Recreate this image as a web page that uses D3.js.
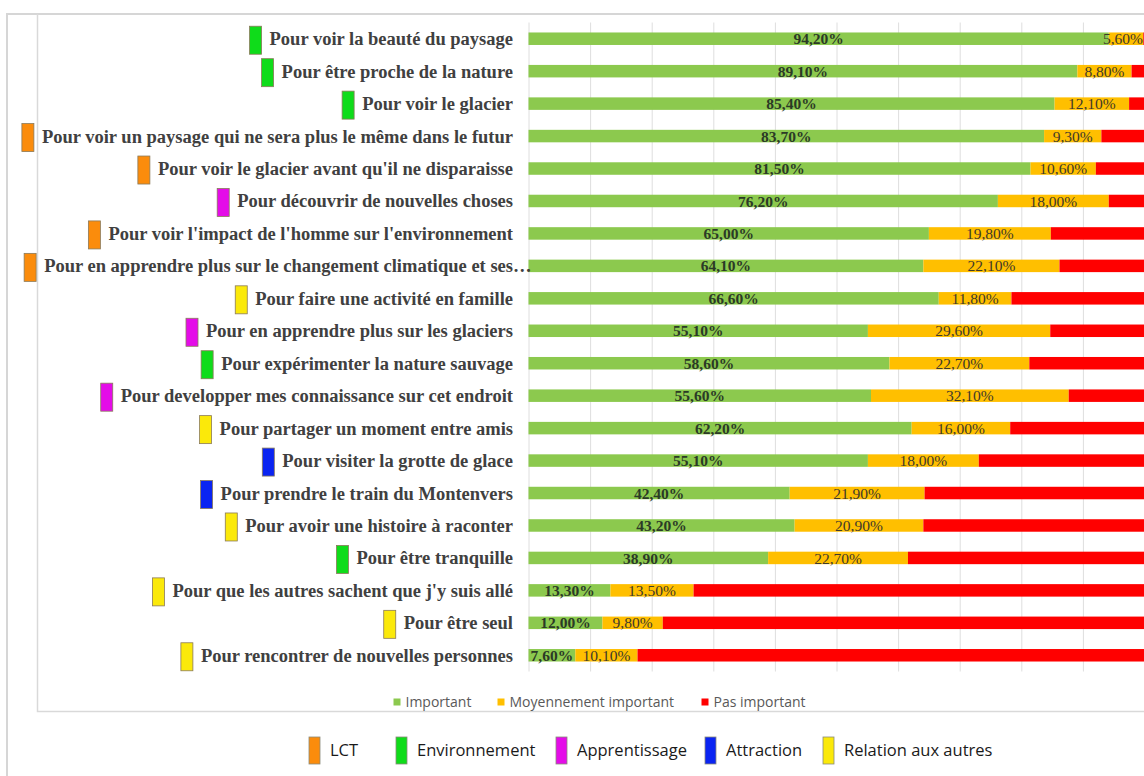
<!DOCTYPE html>
<html>
<head>
<meta charset="utf-8">
<script src="https://cdn.jsdelivr.net/npm/d3@7"></script>
<style>
  body { margin: 0; background: #fff; }
  svg { display: block; }
</style>
</head>
<body>
<svg id="chart" width="1144" height="776"></svg>
<script>
// Motivations, share of answers per level of importance (%)
const categories = [
  "Pour voir la beauté du paysage",
  "Pour être proche de la nature",
  "Pour voir le glacier",
  "Pour voir un paysage qui ne sera plus le même dans le futur",
  "Pour voir le glacier avant qu'il ne disparaisse",
  "Pour découvrir de nouvelles choses",
  "Pour voir l'impact de l'homme sur l'environnement",
  "Pour en apprendre plus sur le changement climatique et ses",
  "Pour faire une activité en famille",
  "Pour en apprendre plus sur les glaciers",
  "Pour expérimenter la nature sauvage",
  "Pour developper mes connaissance sur cet endroit",
  "Pour partager un moment entre amis",
  "Pour visiter la grotte de glace",
  "Pour prendre le train du Montenvers",
  "Pour avoir une histoire à raconter",
  "Pour être tranquille",
  "Pour que les autres sachent que j'y suis allé",
  "Pour être seul",
  "Pour rencontrer de nouvelles personnes"
];
const truncated = [false,false,false,false,false,false,false,true,false,false,false,false,false,false,false,false,false,false,false,false];

const important    = [94.2, 89.1, 85.4, 83.7, 81.5, 76.2, 65.0, 64.1, 66.6, 55.1, 58.6, 55.6, 62.2, 55.1, 42.4, 43.2, 38.9, 13.3, 12.0, 7.6];
const moyennement  = [5.6, 8.8, 12.1, 9.3, 10.6, 18.0, 19.8, 22.1, 11.8, 29.6, 22.7, 32.1, 16.0, 18.0, 21.9, 20.9, 22.7, 13.5, 9.8, 10.1];
const pasImportant = [0.2, 2.1, 2.5, 7.0, 7.9, 5.8, 15.2, 13.8, 21.6, 15.3, 18.7, 12.3, 21.8, 26.9, 35.7, 35.9, 38.4, 73.2, 78.2, 82.3];

// Theme of each motivation
const themes = [
  "Environnement", "Environnement", "Environnement", "LCT", "LCT",
  "Apprentissage", "LCT", "LCT", "Relation aux autres", "Apprentissage",
  "Environnement", "Apprentissage", "Relation aux autres", "Attraction", "Attraction",
  "Relation aux autres", "Environnement", "Relation aux autres", "Relation aux autres", "Relation aux autres"
];

const seriesKeys  = ["important", "moyennement", "pas"];
const seriesNames = ["Important", "Moyennement important", "Pas important"];
const seriesColors = ["#8cc94e", "#ffbf00", "#ff0000"];

const themeNames  = ["LCT", "Environnement", "Apprentissage", "Attraction", "Relation aux autres"];
const themeColors = ["#fb8c0c", "#0fdc1a", "#e40ce8", "#0a24f2", "#fbe90a"];

const gridTicks = [0, 10, 20, 30, 40, 50, 60, 70, 80, 90, 100];

// ---------------------------------------------------------------
const svg = d3.select("#chart");
const W = 1144, H = 776;

const rows = categories.map((c, i) => ({
  cat: c, important: important[i], moyennement: moyennement[i], pas: pasImportant[i]
}));

const x = d3.scaleLinear().domain([0, 100]).range([528.5, 1144.5]);
const y = d3.scaleBand().domain(categories).range([22.5, 671.5])
  .paddingInner(0.615).paddingOuter(0.3075);
const seriesColor = d3.scaleOrdinal().domain(seriesKeys).range(seriesColors);
const themeColor = d3.scaleOrdinal().domain(themeNames).range(themeColors);

// Frames
svg.append("path")
  .attr("d", `M7,${H} V14 H${W}`)
  .attr("fill", "none").attr("stroke", "#d6d6d6").attr("stroke-width", 2);
svg.append("path")
  .attr("d", `M37.5,14 V711.5 H${W}`)
  .attr("fill", "none").attr("stroke", "#d9d9d9").attr("stroke-width", 1.5);

// Vertical gridlines
const grid = svg.append("g")
  .attr("transform", "translate(0,22.5)")
  .call(d3.axisBottom(x).tickValues(gridTicks).tickSize(671.5 - 22.5).tickFormat(""));
grid.select(".domain").remove();
grid.selectAll(".tick line").attr("stroke", "#dedede").attr("stroke-width", 1);

// Stacked bars
const stacked = d3.stack().keys(seriesKeys)(rows);
const layers = svg.append("g").selectAll("g").data(stacked).join("g")
  .attr("fill", d => seriesColor(d.key));
layers.selectAll("rect").data(d => d).join("rect")
  .attr("x", d => x(d[0]))
  .attr("y", d => y(d.data.cat))
  .attr("width", d => x(d[1]) - x(d[0]))
  .attr("height", y.bandwidth());

// Value labels on the first two series
const fmt = v => d3.format(".2f")(v).replace(".", ",") + "%";
const labelSeries = stacked.slice(0, 2);
svg.append("g").selectAll("g").data(labelSeries).join("g")
  .each(function (s, si) {
    d3.select(this).selectAll("text").data(s).join("text")
      .attr("x", d => (x(d[0]) + x(d[1])) / 2)
      .attr("y", d => y(d.data.cat) + y.bandwidth() / 2)
      .attr("dy", "0.36em")
      .attr("text-anchor", "middle")
      .attr("font-family", "'Liberation Serif', 'Times New Roman', serif")
      .attr("font-size", 15.5)
      .attr("font-weight", si === 0 ? "bold" : "normal")
      .attr("fill", si === 0 ? "#2b3a26" : "#3f3a2a")
      .text(d => fmt(d[1] - d[0]))
      .each(function () {
        // keep labels inside the drawing
        const b = this.getBBox();
        const over = b.x + b.width - (W - 1);
        if (over > 0) d3.select(this).attr("x", +d3.select(this).attr("x") - over);
      });
  });

// Category labels with theme markers
const labelRight = 513;
const labelFont = 18.5;
const labels = svg.append("g");
categories.forEach((c, i) => {
  const cy = y(c) + y.bandwidth() / 2;
  const t = labels.append("text")
    .attr("x", labelRight).attr("y", cy).attr("dy", "0.35em")
    .attr("text-anchor", "end")
    .attr("font-family", "'Liberation Serif', 'Times New Roman', serif")
    .attr("font-size", labelFont).attr("font-weight", "bold")
    .attr("fill", "#404040")
    .text(c);
  if (truncated[i]) {
    labels.append("text")
      .attr("x", labelRight).attr("y", cy).attr("dy", "0.35em")
      .attr("font-family", "'Liberation Serif', 'Times New Roman', serif")
      .attr("font-size", labelFont).attr("font-weight", "bold")
      .attr("fill", "#404040")
      .text("…");
  }
  const w = t.node().getComputedTextLength();
  labels.append("rect")
    .attr("x", labelRight - w - 8 - 12)
    .attr("y", cy - 12.5)
    .attr("width", 12).attr("height", 28)
    .attr("fill", themeColor(themes[i]))
    .attr("stroke", "#8a7a5a").attr("stroke-width", 0.8);
});

// Series legend
const legend1 = svg.append("g").attr("font-family", "'Open Sans', sans-serif")
  .attr("font-size", 14).attr("fill", "#595959");
const legend1X = [393.5, 497.5, 701.5];
seriesNames.forEach((n, i) => {
  legend1.append("rect").attr("x", legend1X[i]).attr("y", 698.5).attr("width", 7).attr("height", 7)
    .attr("fill", seriesColors[i]);
  legend1.append("text").attr("x", legend1X[i] + 12).attr("y", 702).attr("dy", "0.35em").text(n);
});

// Theme legend
const legend2 = svg.append("g").attr("font-family", "'Open Sans', sans-serif")
  .attr("font-size", 16.5).attr("fill", "#1a1a1a");
const legend2X = [309, 396, 556, 705, 823];
themeNames.forEach((n, i) => {
  legend2.append("rect").attr("x", legend2X[i]).attr("y", 737).attr("width", 11).attr("height", 27)
    .attr("fill", themeColors[i]).attr("stroke", "#8a8a7a").attr("stroke-width", 0.8);
  legend2.append("text").attr("x", legend2X[i] + 21).attr("y", 750.5).attr("dy", "0.35em").text(n);
});
</script>
</body>
</html>
